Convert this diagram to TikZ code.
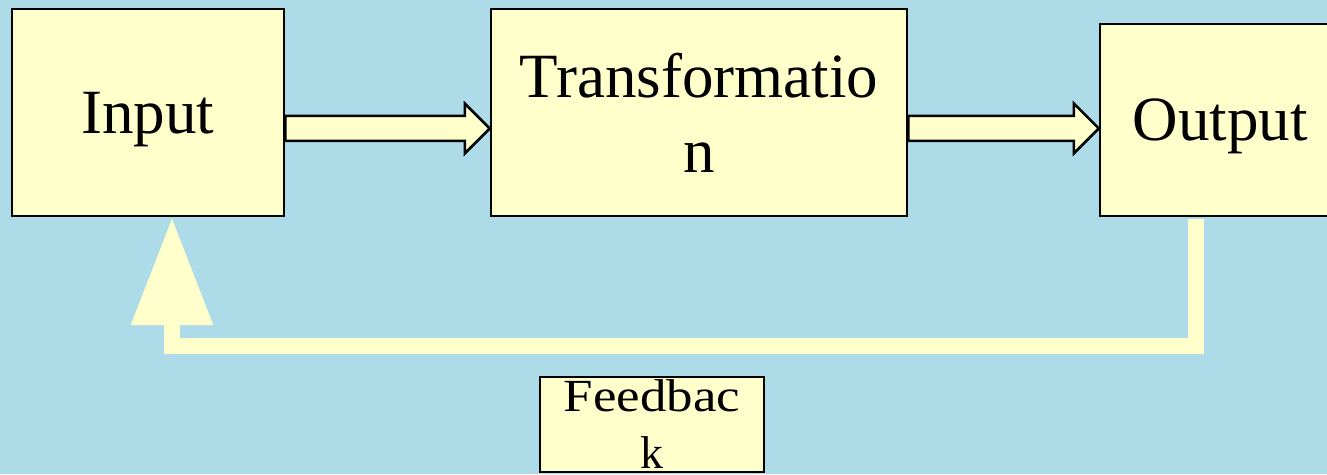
\documentclass[tikz,border=0pt]{standalone}
\usepackage{fontspec}
\setmainfont{Liberation Serif}
\usepackage{graphicx}
\usetikzlibrary{arrows.meta}
\definecolor{skyback}{HTML}{ADDBE8}
\definecolor{boxyellow}{HTML}{FFFFCC}

\tikzset{
  stagebox/.style={draw=black, line width=2.5pt, fill=boxyellow,
    align=center, inner sep=0pt, text depth=0pt, font=\fontsize{63}{75}\selectfont},
  blockarrow/.style={draw=black, line width=2.5pt, fill=boxyellow, line join=miter},
  fbline/.style={boxyellow, line width=16pt, line join=miter,
    -{Triangle[length=108pt, width=78pt]}}
}

% fat arrow between two stages
\newcommand{\blockarrow}[2]{%
  \path ([yshift=-16]#1.east) coordinate (s) (#2.west |- s) coordinate (t);
  \draw[blockarrow] ([yshift=12.5]s) -- ([xshift=-25, yshift=12.5]t)
    -- ([xshift=-25, yshift=25]t) -- (t) -- ([xshift=-25, yshift=-25]t)
    -- ([xshift=-25, yshift=-12.5]t) -- ([yshift=-12.5]s) -- cycle;}

\begin{document}
\begin{tikzpicture}[x=1pt, y=1pt]
  % background
  \fill[skyback] (0,0) rectangle (1327,474);
  \useasboundingbox (0,0) rectangle (1327,474);
  \clip (0,0) rectangle (1327,474);
  % stages
  \node[stagebox, minimum width=272, minimum height=207] (in) at (148,361.5) {Input};
  \node[stagebox, minimum width=416, minimum height=207] (tr) at (699,361.5) {Transformatio\\n};
  \node[stagebox, minimum width=240, minimum height=192] (out) at (1220,354) {Output};
  % feedback label box, text runs over its edges
  \node[stagebox, minimum width=224, minimum height=95,
        font=\fontsize{46}{57}\selectfont] (fb) at (652,49.5)
        {\scalebox{1.15}[1]{Feedbac}\\k};
  % arrows
  \blockarrow{in}{tr}
  \blockarrow{tr}{out}
  % feedback loop
  \draw[fbline, shorten <=1.5pt] ([xshift=-24]out.south)
    |- ([xshift=24, yshift=-129]in.south) -- ([xshift=24]in.south);
\end{tikzpicture}
\end{document}
